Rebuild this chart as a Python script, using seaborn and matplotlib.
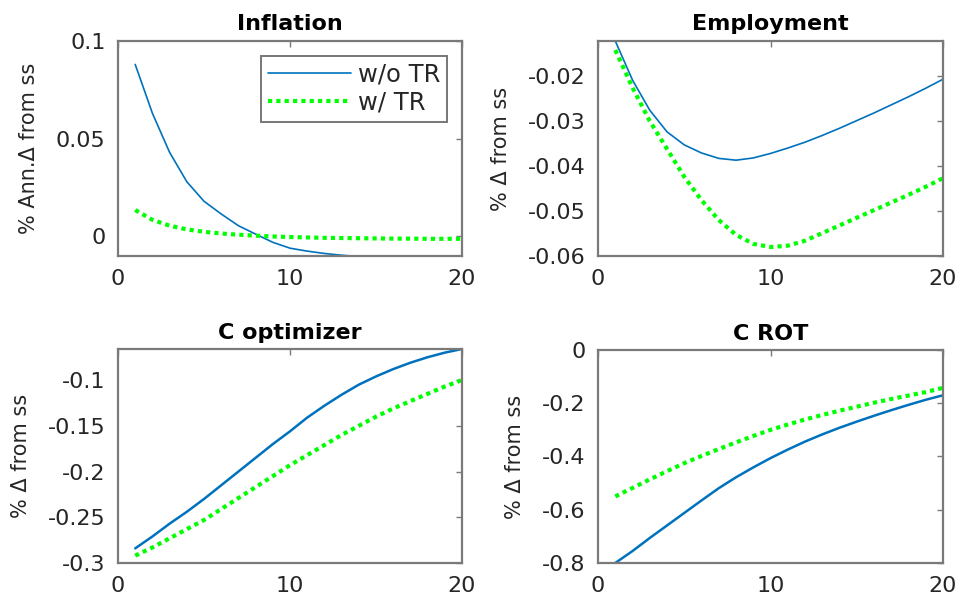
import numpy as np
import pandas as pd
import matplotlib
matplotlib.use("Agg")
import matplotlib.pyplot as plt
import seaborn as sns

# Impulse responses over 20 quarters
horizon = list(range(1, 21))

infl_wo = [0.088, 0.063, 0.043, 0.028, 0.018, 0.0115, 0.0055, 0.0012, -0.0030, -0.0060,
           -0.0075, -0.0087, -0.0096, -0.0103, -0.0108, -0.0111, -0.0112, -0.0112, -0.0111, -0.0110]
infl_w = [0.0135, 0.0085, 0.0055, 0.0036, 0.0024, 0.0015, 0.0009, 0.0004, 0.0000, -0.0003,
          -0.0005, -0.0007, -0.0008, -0.0009, -0.0010, -0.0011, -0.0011, -0.0012, -0.0012, -0.0012]

emp_wo = [-0.0122, -0.0209, -0.0276, -0.0324, -0.0353, -0.0371, -0.0383, -0.0387, -0.0382, -0.0372,
          -0.0360, -0.0347, -0.0332, -0.0316, -0.0299, -0.0282, -0.0264, -0.0246, -0.0227, -0.0207]
emp_w = [-0.0142, -0.0226, -0.0300, -0.0362, -0.0424, -0.0476, -0.0520, -0.0553, -0.0573, -0.0580,
         -0.0577, -0.0566, -0.0549, -0.0532, -0.0515, -0.0498, -0.0481, -0.0464, -0.0446, -0.0427]

copt_wo = [-0.284, -0.271, -0.257, -0.244, -0.230, -0.215, -0.200, -0.185, -0.170, -0.156,
           -0.141, -0.128, -0.116, -0.105, -0.096, -0.088, -0.081, -0.075, -0.070, -0.066]
copt_w = [-0.292, -0.283, -0.273, -0.263, -0.253, -0.241, -0.229, -0.217, -0.205, -0.193,
          -0.182, -0.171, -0.160, -0.150, -0.140, -0.131, -0.123, -0.115, -0.107, -0.100]

crot_wo = [-0.800, -0.755, -0.706, -0.659, -0.612, -0.565, -0.519, -0.478, -0.441, -0.406,
           -0.374, -0.344, -0.317, -0.292, -0.269, -0.247, -0.226, -0.206, -0.187, -0.170]
crot_w = [-0.550, -0.518, -0.486, -0.455, -0.425, -0.398, -0.372, -0.347, -0.323, -0.300,
          -0.280, -0.261, -0.244, -0.228, -0.213, -0.198, -0.184, -0.171, -0.158, -0.142]

titles = ["Inflation", "Employment", "C optimizer", "C ROT"]
ylabels = ["% Ann.\u0394 from ss", "% \u0394 from ss", "% \u0394 from ss", "% \u0394 from ss"]
series_names = ["w/o TR", "w/ TR"]

x_ticks = [0, 10, 20]
x_ticklabels = ["0", "10", "20"]
y_ticks = [
    [0, 0.05, 0.1],
    [-0.06, -0.05, -0.04, -0.03, -0.02],
    [-0.3, -0.25, -0.2, -0.15, -0.1],
    [-0.8, -0.6, -0.4, -0.2, 0],
]
y_ticklabels = [
    ["0", "0.05", "0.1"],
    ["-0.06", "-0.05", "-0.04", "-0.03", "-0.02"],
    ["-0.3", "-0.25", "-0.2", "-0.15", "-0.1"],
    ["-0.8", "-0.6", "-0.4", "-0.2", "0"],
]
y_limits = [(-0.01, 0.1), (-0.06, -0.0122), (-0.3, -0.066), (-0.8, 0.0)]

panels = [(infl_wo, infl_w), (emp_wo, emp_w), (copt_wo, copt_w), (crot_wo, crot_w)]

sns.set_style("white")
plt.rcParams["font.family"] = ["DejaVu Sans"]

fig = plt.figure(figsize=(9.61, 5.99), dpi=100)
positions = [
    [0.1228, 0.5726, 0.358, 0.359],
    [0.6223, 0.5726, 0.359, 0.359],
    [0.1228, 0.0601, 0.358, 0.3573],
    [0.6223, 0.0601, 0.359, 0.3556],
]
title_pads = [8, 8, 7, 7]

blue = "#0072BD"
green = "#00FF00"
frame = "#7a7a7a"
txt = "#262626"

for i, (pos, (wo, w)) in enumerate(zip(positions, panels)):
    ax = fig.add_axes(pos)
    df = pd.DataFrame({"t": horizon + horizon,
                       "v": wo + w,
                       "case": [series_names[0]] * len(horizon) + [series_names[1]] * len(horizon)})
    lw_blue = 1.2 if i < 2 else 1.8
    sns.lineplot(data=df[df["case"] == series_names[0]], x="t", y="v", ax=ax,
                 color=blue, linewidth=lw_blue, label=series_names[0] if i == 0 else None,
                 legend=False)
    sns.lineplot(data=df[df["case"] == series_names[1]], x="t", y="v", ax=ax,
                 color=green, linewidth=3.0, label=series_names[1] if i == 0 else None,
                 legend=False)
    ax.lines[1].set_dashes((1, 1))
    ax.lines[1].set_dash_capstyle("butt")

    ax.set_xlim(0, 20)
    ax.set_ylim(*y_limits[i])
    ax.set_xticks(x_ticks)
    ax.set_xticklabels(x_ticklabels)
    ax.set_yticks(y_ticks[i])
    ax.set_yticklabels(y_ticklabels[i])
    ax.set_xlabel("")
    ax.set_ylabel(ylabels[i], fontsize=15, color=txt, labelpad=12)
    ax.set_title(titles[i], fontsize=16, fontweight="bold", color="black", pad=title_pads[i])
    ax.tick_params(axis="both", which="both", direction="in", length=4, width=1,
                   colors=frame, labelcolor=txt, labelsize=16,
                   top=True, right=True, pad=9)
    for s in ax.spines.values():
        s.set_color(frame)
        s.set_linewidth(1.6)

    if i == 0:
        leg = ax.legend(loc="upper right", fontsize=17.5, frameon=True, fancybox=False,
                        handlelength=3.4, handletextpad=0.3, borderpad=0.3,
                        labelspacing=0.15, borderaxespad=0.6)
        leg.get_frame().set_edgecolor("#555555")
        leg.get_frame().set_linewidth(1.4)
        for t in leg.get_texts():
            t.set_color(txt)

fig.savefig("out.png", dpi=100)
